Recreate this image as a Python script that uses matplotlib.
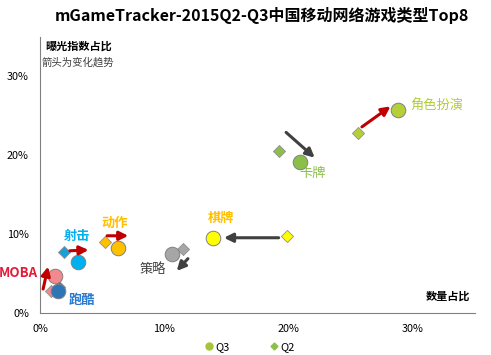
import numpy as np
import matplotlib.pyplot as plt
from matplotlib.lines import Line2D

plt.rcParams['font.family'] = ['Noto Sans CJK SC', 'DejaVu Sans']

# categories and values (% share)
names = ['角色扮演', '卡牌', '棋牌', '策略', '动作', '射击', 'MOBA', '跑酷']
q3_x = [28.8, 20.9, 13.9, 10.6, 6.3, 3.05, 1.2, 1.45]
q3_y = [25.7, 19.1, 9.55, 7.5, 8.3, 6.5, 4.7, 2.8]
q2_x = [25.6, 19.2, 19.9, 11.5, 5.2, 1.9, 0.9, 1.5]
q2_y = [22.8, 20.6, 9.8, 8.15, 9.05, 7.8, 2.8, 3.3]

# trend arrows (start -> end), up = red, down = dark gray
arr_x0 = [25.9, 19.8, 19.2, 11.9, 5.4, 2.4, 0.25]
arr_y0 = [23.6, 22.9, 9.55, 6.9, 9.8, 7.9, 3.05]
arr_x1 = [28.2, 22.1, 14.8, 11.0, 7.1, 3.9, 0.65]
arr_y1 = [26.2, 19.7, 9.55, 5.35, 9.8, 8.0, 5.9]
arr_up = [True, False, False, False, True, True, True]

# label positions
lab_x = [29.8, 21.9, 14.6, 9.1, 6.0, 2.95, -0.15, 3.4]
lab_y = [26.2, 17.7, 12.0, 5.5, 11.5, 9.8, 5.1, 1.65]

dot_col = ['#b5cf3a', '#8cbf4a', '#ffff00', '#a6a6a6', '#ffc000', '#00b0f0', '#f08a8f', '#2e75b6']
dia_col = ['#b5cf3a', '#8cbf4a', '#ffff00', '#a6a6a6', '#ffc000', '#1aa0d8', '#f08a8f', '#2e75b6']
lab_col = ['#b0cc34', '#8cbf4a', '#ffc000', '#404040', '#ffc000', '#00b0f0', '#e31b3a', '#2a7ad0']
lab_bold = [False, False, True, False, True, True, True, True]

fig = plt.figure(figsize=(4.91, 3.55), dpi=100)
ax = fig.add_axes([0.0815, 0.118, 0.886, 0.778])

for i in range(len(names)):
    ax.scatter(q2_x[i], q2_y[i], marker='D', s=38, color=dia_col[i],
               edgecolors='#909090', linewidths=0.6, zorder=3)
for i in range(len(names)):
    ax.scatter(q3_x[i], q3_y[i], marker='o', s=110, color=dot_col[i],
               edgecolors='#808080', linewidths=0.7, zorder=4)

for i in range(len(arr_x0)):
    c = '#c00000' if arr_up[i] else '#404040'
    ax.annotate('', xy=(arr_x1[i], arr_y1[i]), xytext=(arr_x0[i], arr_y0[i]),
                arrowprops=dict(arrowstyle='-|>', color=c, lw=2.2,
                                mutation_scale=13, shrinkA=0, shrinkB=0),
                zorder=5)

for i in range(len(names)):
    ha = 'center'
    if names[i] == '角色扮演':
        ha = 'left'
    elif names[i] == 'MOBA':
        ha = 'right'
    ax.text(lab_x[i], lab_y[i], names[i], color=lab_col[i], fontsize=9.5,
            fontweight='bold' if lab_bold[i] else 'normal',
            ha=ha, va='center', zorder=6, clip_on=False)

ax.set_xlim(0, 35)
ax.set_ylim(0, 35)
ax.set_xticks([0, 10, 20, 30])
ax.set_yticks([0, 10, 20, 30])
ax.set_xticklabels(['0%', '10%', '20%', '30%'], fontsize=7.8)
ax.set_yticklabels(['0%', '10%', '20%', '30%'], fontsize=7.8)
ax.tick_params(length=0, pad=8)
ax.spines['top'].set_visible(False)
ax.spines['right'].set_visible(False)
ax.spines['left'].set_color('#808080')
ax.spines['bottom'].set_color('#808080')

ax.text(0.012, 0.99, '曝光指数占比', transform=ax.transAxes, fontsize=8,
        fontweight='bold', ha='left', va='top')
ax.text(0.004, 0.925, '箭头为变化趋势', transform=ax.transAxes, fontsize=7.5,
        color='#404040', ha='left', va='top')
ax.text(0.99, 0.06, '数量占比', transform=ax.transAxes, fontsize=8,
        fontweight='bold', ha='right', va='center')

fig.text(0.533, 0.955, 'mGameTracker-2015Q2-Q3中国移动网络游戏类型Top8',
         fontsize=11.5, fontweight='bold', ha='center', va='center')

handles = [Line2D([], [], marker='o', ls='', color='#a6c43a', markersize=5),
           Line2D([], [], marker='D', ls='', color='#8cbf4a', markersize=3.5)]
fig.legend(handles, ['Q3', 'Q2'], loc='center', bbox_to_anchor=(0.507, 0.022),
           ncol=2, frameon=False, fontsize=8, handletextpad=0.1,
           columnspacing=3.5, handlelength=1)

fig.savefig('out.png', dpi=100)
